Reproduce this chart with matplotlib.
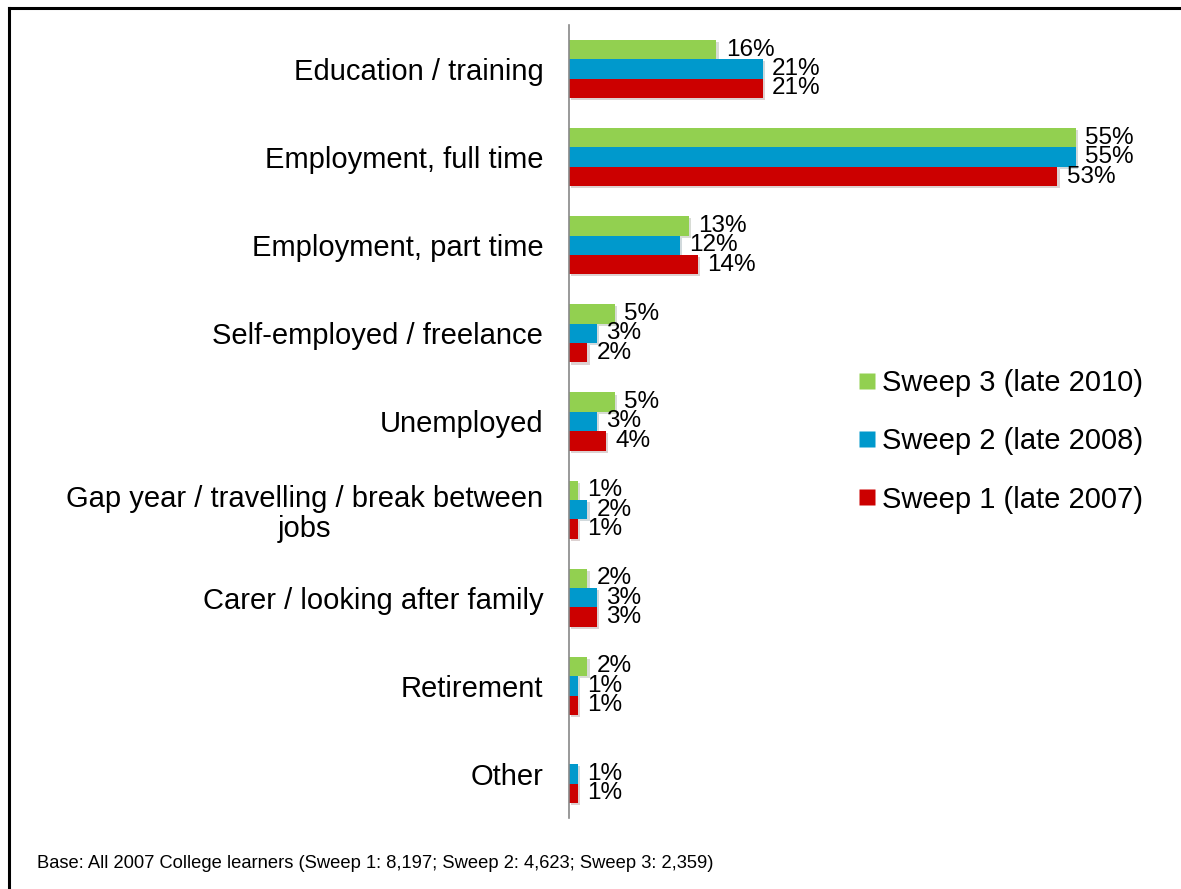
import matplotlib
matplotlib.use("Agg")
import matplotlib.pyplot as plt
import matplotlib.patheffects as pe
from matplotlib.lines import Line2D
import numpy as np

plt.rcParams['font.family'] = ['Liberation Sans', 'DejaVu Sans']

categories = [
    "Education / training",
    "Employment, full time",
    "Employment, part time",
    "Self-employed / freelance",
    "Unemployed",
    "Gap year / travelling / break between\njobs",
    "Carer / looking after family",
    "Retirement",
    "Other",
]
sweep3 = [16, 55, 13, 5, 5, 1, 2, 2, None]
sweep2 = [21, 55, 12, 3, 3, 2, 3, 1, 1]
sweep1 = [21, 53, 14, 2, 4, 1, 3, 1, 1]

series = [
    ("Sweep 3 (late 2010)", sweep3, "#92D050", -1),
    ("Sweep 2 (late 2008)", sweep2, "#0099CC", 0),
    ("Sweep 1 (late 2007)", sweep1, "#CC0000", 1),
]

fig = plt.figure(figsize=(11.81, 8.89), dpi=100)
ax = fig.add_axes([569 / 1181, 71 / 889, (1122 - 569) / 1181, (818 - 25) / 889])

y = np.arange(len(categories))
h = 0.22
shadow = [pe.SimplePatchShadow(offset=(1.5, -1.5), alpha=0.18), pe.Normal()]

handles = []
for label, vals, color, k in series:
    for i, v in enumerate(vals):
        if v is None:
            continue
        bar = ax.barh(y[i] + k * h, v, height=h, color=color, edgecolor='none')
        for p in bar.patches:
            p.set_path_effects(shadow)
        ax.text(v + 1.0, y[i] + k * h, f"{v}%", va='center', ha='left',
                fontsize=17.5, color='black')
    handles.append(Line2D([], [], marker='s', linestyle='none', markersize=12,
                          markerfacecolor=color, markeredgecolor='none', label=label))

ax.set_ylim(len(categories) - 0.5, -0.5)
ax.set_xlim(0, 60)
ax.set_yticks(y)
ax.set_yticklabels(categories, fontsize=21, multialignment='center', linespacing=1.1)
ax.tick_params(axis='y', length=0, pad=18.5)
ax.set_xticks([])
for s in ['top', 'right', 'bottom']:
    ax.spines[s].set_visible(False)
ax.spines['left'].set_color('#888888')
ax.spines['left'].set_linewidth(1.2)

fig.legend(handles=handles, loc='upper left', bbox_to_anchor=(857 / 1181, 1 - 369 / 889),
           frameon=False, fontsize=21, labelspacing=1.04, handletextpad=0.15,
           borderpad=0, borderaxespad=0, handlelength=0.7)

fig.text(37 / 1181, 1 - 863 / 889, "Base: All 2007 College learners (Sweep 1: 8,197; Sweep 2: 4,623; Sweep 3: 2,359)",
         fontsize=13.2, va='center', ha='left')

# frame along the top and left edges
fig.add_artist(Line2D([8.5 / 1181, 8.5 / 1181], [0, 1 - 8 / 889], transform=fig.transFigure,
                      color='black', linewidth=2.2))
fig.add_artist(Line2D([8.5 / 1181, 1], [1 - 8 / 889, 1 - 8 / 889], transform=fig.transFigure,
                      color='black', linewidth=2.2))

fig.savefig("out.png", dpi=100)
